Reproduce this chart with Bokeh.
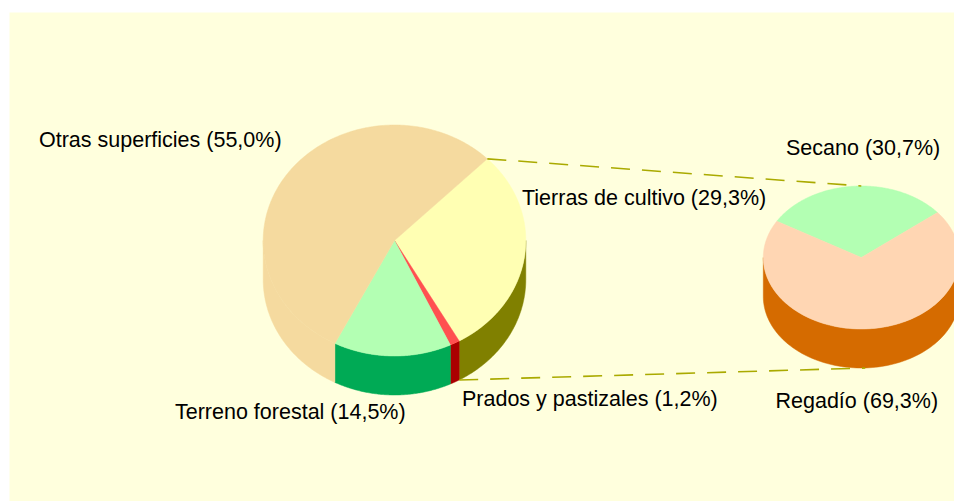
import numpy as np
from bokeh.plotting import figure
from bokeh.models import Range1d, BoxAnnotation
from bokeh.core.properties import value
from bokeh.embed import file_html
from bokeh.resources import INLINE

# Data
main_labels = ["Tierras de cultivo (29,3%)", "Prados y pastizales (1,2%)",
               "Terreno forestal (14,5%)", "Otras superficies (55,0%)"]
main_values = [29.3, 1.2, 14.5, 55.0]
main_top = ["#FFFFB3", "#FF5050", "#B3FFB3", "#F5DA9F"]
main_side = ["#808000", "#AA0000", "#00AA55", "#F5DA9F"]
main_label_pos = [(521.5, 197.5), (461.5, 398.5), (174.5, 411), (38.5, 139.5)]

sub_labels = ["Secano (30,7%)", "Regadío (69,3%)"]
sub_values = [30.7, 69.3]
sub_top = ["#B3FFB3", "#FFD6B3"]
sub_side = ["#00AA55", "#D56B00"]
sub_label_pos = [(785.5, 147.5), (775, 400.5)]

BG = "#FFFFDD"
LINE = "#AAAA00"

p = figure(width=954, height=501, output_backend="svg", toolbar_location=None,
           x_range=Range1d(0, 954), y_range=Range1d(501, 0),
           x_axis_type=None, y_axis_type=None, min_border=0,
           background_fill_color="white", border_fill_color="white",
           outline_line_color=None)
p.grid.visible = False
p.add_layout(BoxAnnotation(left=9, top=12, fill_color=BG, fill_alpha=1,
                           line_color=None, level="underlay"))


def pt(c, a, dz=0.0):
    return c[0] + c[2] * np.cos(a), c[1] - c[3] * np.sin(a) + dz


def draw_pie(c, depth, values, start_deg, tops, sides):
    """c = (cx, cy, rx, ry); slices run clockwise from start_deg."""
    total = sum(values)
    edges = np.radians(start_deg - np.cumsum([0] + list(values)) * 360.0 / total)
    # sides: visible part is the front half of the ellipse (sin<0)
    for i in range(len(values)):
        a0, a1 = edges[i], edges[i + 1]
        for k in (0, -1):
            lo = -np.pi + k * 2 * np.pi
            hi = 0 + k * 2 * np.pi
            s = min(a0, hi)
            e = max(a1, lo)
            if s <= e:
                continue
            t = np.linspace(s, e, 100)
            x1, y1 = pt(c, t)
            x2, y2 = pt(c, t[::-1], depth)
            p.patch(np.r_[x1, x2], np.r_[y1, y2], fill_color=sides[i],
                    line_color=sides[i], line_width=0.5)
    for i in range(len(values)):
        t = np.linspace(edges[i], edges[i + 1], 200)
        x, y = pt(c, t)
        p.patch(np.r_[c[0], x], np.r_[c[1], y], fill_color=tops[i],
                line_color=tops[i], line_width=0.5)
    return edges


MAIN = (394.0, 240.0, 131.3, 115.5)
SUB = (860.8, 257.0, 98.0, 71.5)
DEPTH = 39.0

main_edges = draw_pie(MAIN, DEPTH, main_values, 45.0, main_top, main_side)
draw_pie(SUB, DEPTH, sub_values, 149.5, sub_top, sub_side)

# connector lines
x0, y0 = pt(MAIN, main_edges[0])
x1, y1 = pt(SUB, np.pi / 2)
p.line([x0, x1], [y0, y1], line_color=LINE, line_width=1.6, line_dash="19 12")
x0, y0 = pt(MAIN, main_edges[1], DEPTH)
x1, y1 = pt(SUB, -np.pi / 2, DEPTH)
p.line([x0, x1 + 4], [y0, y1], line_color=LINE, line_width=1.6, line_dash="19 12")

for labels, pos in ((main_labels, main_label_pos), (sub_labels, sub_label_pos)):
    p.text([q[0] for q in pos], [q[1] for q in pos], text=labels,
           text_font=value("Liberation Sans"), text_font_size="21.5px",
           text_color="black", text_align="left", text_baseline="middle")

open("out.html", "w").write(file_html(p, INLINE))
